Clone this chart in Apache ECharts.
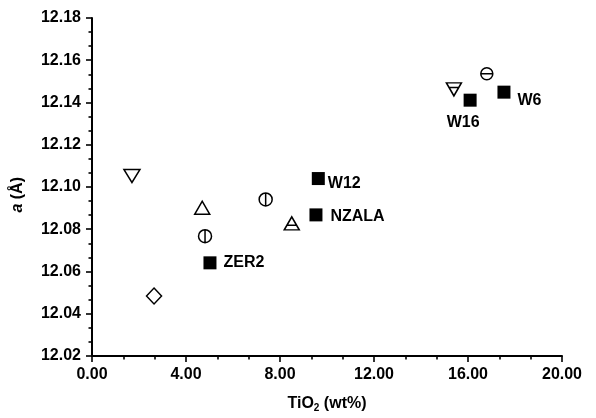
<!DOCTYPE html>
<html>
<head>
<meta charset="utf-8">
<script src="https://cdn.jsdelivr.net/npm/echarts@6/dist/echarts.min.js"></script>
<style>
  html, body { margin: 0; padding: 0; background: #fff; }
  #chart { width: 596px; height: 418px; }
</style>
</head>
<body>
<div id="chart"></div>
<script>
// Lattice parameter a versus TiO2 content
const FONT = '"Liberation Sans", Arial, sans-serif';

// Labelled samples (filled squares)
const sampleNames = ['W12', 'NZALA', 'ZER2', 'W16', 'W6'];
const sampleTiO2  = [9.63, 9.53, 5.02, 16.09, 17.53];
const sampleA     = [12.104, 12.0868, 12.0641, 12.1411, 12.1449];

// Reference data groups (open symbols)
const downTriTiO2 = [1.70];
const downTriA    = [12.1052];
const upTriTiO2   = [4.69];
const upTriA      = [12.0902];
const circVTiO2   = [4.81, 7.39];
const circVA      = [12.0767, 12.0941];
const diamondTiO2 = [2.64];
const diamondA    = [12.0484];
const triBarTiO2  = [8.50];
const triBarA     = [12.0828];
const downBarTiO2 = [15.40];
const downBarA    = [12.1462];
const circHTiO2   = [16.80];
const circHA      = [12.1536];

// Tick labels
const xTicks = ['0.00', '4.00', '8.00', '12.00', '16.00', '20.00'];
const yTicks = ['12.02', '12.04', '12.06', '12.08', '12.10', '12.12', '12.14', '12.16', '12.18'];

const pts = (xs, ys) => xs.map((x, i) => [x, ys[i]]);

// Custom symbol paths
const CIRCLE_V = 'path://M0,-10A10,10 0 1,1 0,10A10,10 0 1,1 0,-10ZM0,-10L0,10';
const CIRCLE_H = 'path://M0,-10A10,10 0 1,1 0,10A10,10 0 1,1 0,-10ZM-10,0L10,0';
const TRI_BAR  = 'path://M0,-10L10,10L-10,10ZM-6.5,3L6.5,3';
const DOWN_TRI = 'path://M-10,-10L10,-10L0,10Z';
const DOWN_BAR = 'path://M-10,-10L10,-10L0,10ZM-6.5,-3L6.5,-3';

const openStyle = { color: '#fff', borderColor: '#000', borderWidth: 1.5, opacity: 1 };

function openSeries(name, xs, ys, symbol, size) {
  return {
    name, type: 'scatter', data: pts(xs, ys),
    symbol, symbolSize: size,
    itemStyle: openStyle,
    emphasis: { disabled: true }
  };
}

// Per-sample label placement
const labelPlacement = {
  W12:   { position: 'right', distance: 3, offset: [0, 5] },
  NZALA: { position: 'right', distance: 8, offset: [0, 2] },
  ZER2:  { position: 'right', distance: 7, offset: [0, 0] },
  W16:   { position: 'bottom', distance: 7, offset: [-7, 1] },
  W6:    { position: 'right', distance: 7, offset: [0, 8] }
};

const chart = echarts.init(document.getElementById('chart'), null, { renderer: 'canvas' });

const axisCommon = {
  axisLine: { show: true, lineStyle: { color: '#000', width: 2 } },
  axisTick: { show: true, inside: false, length: 6, lineStyle: { color: '#000', width: 1.6 } },
  minorTick: { show: true, splitNumber: 3, length: 3.5, lineStyle: { color: '#000', width: 1.6 } },
  splitLine: { show: false },
  minorSplitLine: { show: false },
  axisLabel: { color: '#000', fontFamily: FONT, fontWeight: 'bold', fontSize: 16 }
};

chart.setOption({
  animation: false,
  backgroundColor: '#fff',
  grid: { left: 92, right: 34, top: 18, bottom: 61, containLabel: false },
  xAxis: Object.assign({}, axisCommon, {
    type: 'value', min: 0, max: 20, interval: 4,
    axisLabel: Object.assign({}, axisCommon.axisLabel, {
      margin: 11,
      formatter: v => xTicks[Math.round(v / 4)]
    }),
    name: 'TiO{sub|2} (wt%)',
    nameLocation: 'middle',
    nameGap: 38,
    nameTextStyle: {
      color: '#000', fontFamily: FONT, fontWeight: 'bold', fontSize: 16,
      rich: {
        sub: { fontFamily: FONT, fontWeight: 'bold', fontSize: 10, padding: [9, 0, 0, 0], color: '#000' }
      }
    }
  }),
  yAxis: Object.assign({}, axisCommon, {
    type: 'value', min: 12.02, max: 12.18, interval: 0.02,
    axisLabel: Object.assign({}, axisCommon.axisLabel, {
      margin: 11,
      formatter: v => yTicks[Math.round((v - 12.02) / 0.02)]
    })
  }),
  graphic: [{
    type: 'text',
    left: 10, top: 177,
    rotation: Math.PI / 2,
    style: {
      text: '{i|a} (Å)',
      fill: '#000',
      font: 'bold 16px ' + FONT,
      rich: {
        i: { fontStyle: 'italic', fontWeight: 'bold', fontSize: 16, fontFamily: FONT, fill: '#000' }
      }
    }
  }],
  series: [
    openSeries('downTri', downTriTiO2, downTriA, DOWN_TRI, [16, 13]),
    openSeries('upTri', upTriTiO2, upTriA, 'triangle', [15, 13]),
    openSeries('circleV', circVTiO2, circVA, CIRCLE_V, 13),
    openSeries('diamond', diamondTiO2, diamondA, 'diamond', [15, 16]),
    openSeries('triBar', triBarTiO2, triBarA, TRI_BAR, [15, 13]),
    openSeries('downBar', downBarTiO2, downBarA, DOWN_BAR, [15, 13]),
    openSeries('circleH', circHTiO2, circHA, CIRCLE_H, 12),
    {
      name: 'samples', type: 'scatter',
      data: sampleNames.map((n, i) => ({
        name: n,
        value: [sampleTiO2[i], sampleA[i]],
        label: Object.assign({ show: true, formatter: n }, labelPlacement[n])
      })),
      symbol: 'rect', symbolSize: 13,
      itemStyle: { color: '#000', opacity: 1 },
      label: { color: '#000', fontFamily: FONT, fontWeight: 'bold', fontSize: 16 },
      emphasis: { disabled: true }
    }
  ]
});
</script>
</body>
</html>
